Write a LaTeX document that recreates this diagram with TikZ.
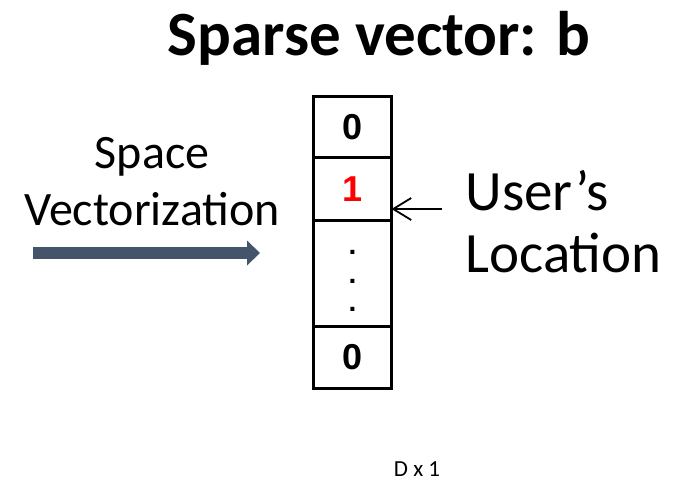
\documentclass[tikz,border=0pt]{standalone}
\usepackage{fontspec}
\setmainfont{Carlito}
\newfontfamily\numfont{Liberation Sans}[BoldFont={Liberation Sans Bold}]
\usetikzlibrary{positioning,arrows.meta}

\definecolor{slate}{HTML}{44546A}
\newcommand{\cellnum}{\numfont\bfseries\fontsize{36}{36}\selectfont}
\newcommand{\celldot}{\numfont\bfseries\fontsize{28}{28}\selectfont}

\begin{document}
\begin{tikzpicture}[x=1pt, y=-1pt]
    \tikzstyle{cell}=[rectangle, draw, line width=3pt, outer sep=0pt, inner sep=0pt, minimum width=78pt]
    \tikzstyle{dot}=[inner sep=0pt, anchor=base]
    \tikzstyle{bigarrow}=[slate, line width=12pt, -{Triangle[length=13pt, width=25pt, line width=0pt]}]
    \tikzstyle{pointer}=[line width=1.8pt, -{Straight Barb[length=18pt, width=22pt]}]

    \useasboundingbox (0,0) rectangle (673,482);

    \node[anchor=base, font=\bfseries\fontsize{63}{63}\selectfont] (title) at (379,55) {Sparse vector: b};

    % the vector b
    \node[cell, minimum height=61pt, anchor=north] (c0) at (352.5,96.3) {\cellnum 0};
    \node[cell, minimum height=62.7pt, below=0pt of c0, text=red] (c1) {\cellnum 1};
    \node[cell, minimum height=106pt, below=0pt of c1] (cdots) {};
    \node[cell, minimum height=62.3pt, below=0pt of cdots] (cn) {\cellnum 0};
    \foreach \y in {254,283,311}
      \node[dot] (d\y) at (352.5,\y) {\celldot .};

    \node[anchor=base, font=\fontsize{23}{23}\selectfont] (dim) at (417,476) {D x 1};

    % left label and arrow
    \node[anchor=base, align=center, font=\fontsize{48}{57}\selectfont] (space) at (152,225) {Space\\Vectorization};
    \coordinate (a0) at (33,253);
    \coordinate (a1) at (260,253);
    \draw[bigarrow] (a0) -- (a1);

    % pointer to the non-zero entry
    \node[anchor=base west, align=left, font=\fontsize{57}{62}\selectfont] (user) at (462,272) {User's\\Location};
    \coordinate (p0) at (442,209);
    \draw[pointer] (p0) -- (p0 -| c1.east);
\end{tikzpicture}
\end{document}
